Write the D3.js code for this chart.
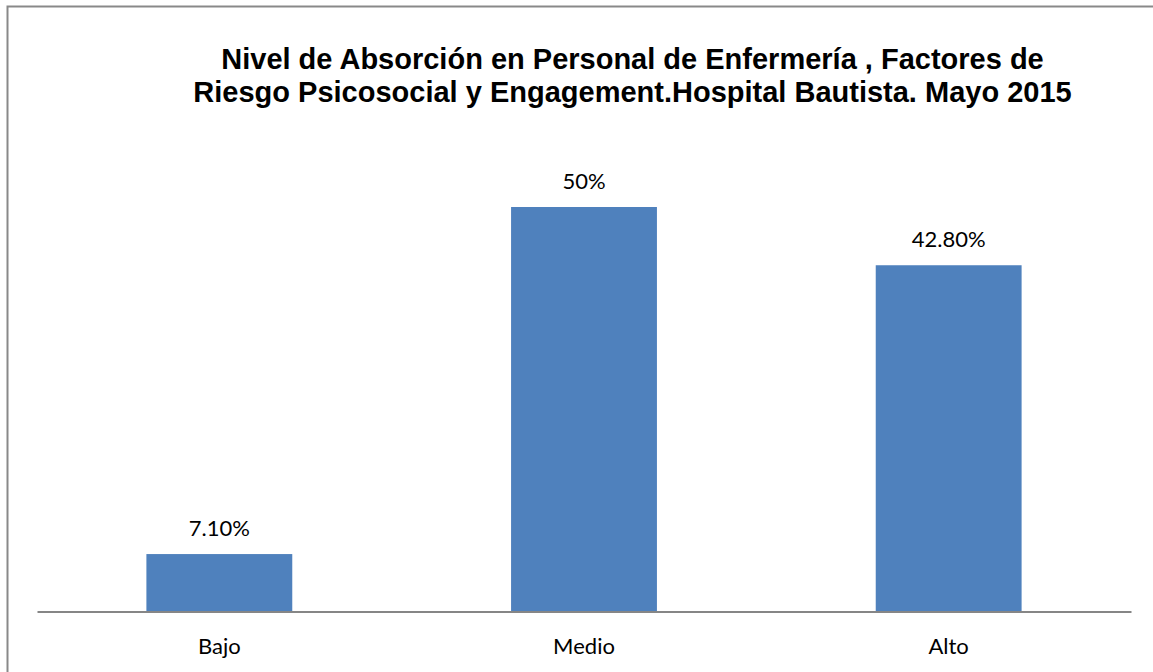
<!DOCTYPE html>
<html>
<head>
<meta charset="utf-8">
<script src="https://cdn.jsdelivr.net/npm/d3@7"></script>
<style>
  body { margin: 0; background: #fff; }
  svg { display: block; }
</style>
</head>
<body>
<script>
let categories = ["Bajo", "Medio", "Alto"];
let values = [0.071, 0.5, 0.428];
let valueLabels = ["7.10%", "50%", "42.80%"];
let titleLines = [
  "Nivel de Absorción en Personal de Enfermería , Factores de",
  "Riesgo Psicosocial y Engagement.Hospital Bautista. Mayo 2015",
];

let width = 1153;
let height = 672;
let plotLeft = 37;
let plotRight = 1131;
let baseline = 611.5;

let svg = d3
  .select("body")
  .append("svg")
  .attr("width", width)
  .attr("height", height);

// chart frame (right and bottom edges fall outside the picture)
svg
  .append("rect")
  .attr("x", 7.5)
  .attr("y", 6.5)
  .attr("width", 1200)
  .attr("height", 700)
  .attr("fill", "none")
  .attr("stroke", "#898989")
  .attr("stroke-width", 2);

let xScale = d3
  .scaleBand()
  .domain(categories)
  .range([plotLeft, plotRight])
  .paddingInner(0.6)
  .paddingOuter(0.3);

let yScale = d3
  .scaleLinear()
  .domain([0, 0.6])
  .range([baseline, baseline - 485.4]);

svg
  .selectAll("text.title")
  .data(titleLines)
  .enter()
  .append("text")
  .attr("class", "title")
  .attr("x", 632.5)
  .attr("y", (d, i) => 69 + i * 32.5)
  .attr("text-anchor", "middle")
  .attr("font-family", "Liberation Sans, Arial, sans-serif")
  .attr("font-weight", "bold")
  .attr("font-size", "29px")
  .attr("fill", "#000")
  .text((d) => d);

svg
  .selectAll("rect.bar")
  .data(values)
  .enter()
  .append("rect")
  .attr("class", "bar")
  .attr("x", (d, i) => xScale(categories[i]))
  .attr("y", (d) => yScale(d))
  .attr("width", xScale.bandwidth())
  .attr("height", (d) => yScale(0) - yScale(d))
  .attr("fill", "#4f81bd");

svg
  .selectAll("text.value")
  .data(values)
  .enter()
  .append("text")
  .attr("class", "value")
  .attr("x", (d, i) => xScale(categories[i]) + xScale.bandwidth() / 2)
  .attr("y", (d) => yScale(d) - 18)
  .attr("text-anchor", "middle")
  .attr("font-family", "Lato, Carlito, Calibri, sans-serif")
  .attr("font-size", "22px")
  .attr("fill", "#000")
  .text((d, i) => valueLabels[i]);

let xAxis = d3.axisBottom(xScale).tickSize(0).tickPadding(0);
let gx = svg
  .append("g")
  .attr("transform", `translate(0,${baseline})`)
  .call(xAxis);
gx.select(".domain").attr("stroke", "#868686").attr("stroke-width", 2);
gx.selectAll("text")
  .attr("dy", 0)
  .attr("y", 42)
  .attr("font-family", "Lato, Carlito, Calibri, sans-serif")
  .attr("font-size", "22px")
  .attr("fill", "#000");
</script>
</body>
</html>
